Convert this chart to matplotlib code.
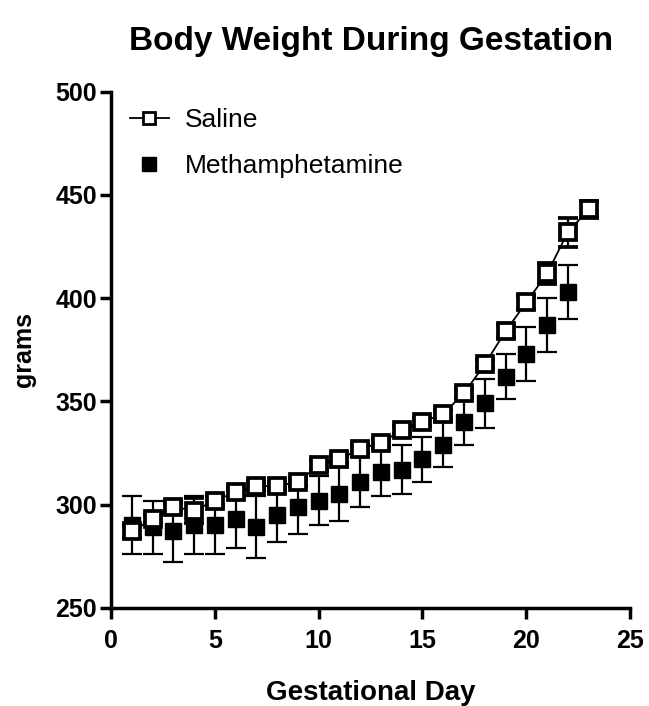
import matplotlib
matplotlib.use('Agg')
import matplotlib.pyplot as plt
from matplotlib.lines import Line2D

plt.rcParams['font.family'] = ['Liberation Sans', 'DejaVu Sans']

days_sal = list(range(1, 24))
saline = [287, 293, 299, 297, 302, 306, 309, 309, 311, 319, 322, 327, 330,
          336, 340, 344, 354, 368, 384, 398, 412, 432, 443]
saline_err = [3, 2, 2, 6, 2, 2, 2, 2, 2, 2, 2, 2, 2,
              2, 2, 2, 2, 2, 3, 3, 5, 7, 4]

days_meth = list(range(1, 23))
meth = [290, 289, 287, 290, 290, 293, 289, 295, 299, 302, 305, 311, 316,
        317, 322, 329, 340, 349, 362, 373, 387, 403]
meth_err = [14, 13, 15, 14, 14, 14, 15, 13, 13, 12, 13, 12, 12,
            12, 11, 11, 11, 12, 11, 13, 13, 13]

fig = plt.figure(figsize=(6.49, 7.06), dpi=100)
ax = fig.add_axes([0.171, 0.139, 0.80, 0.731])

ax.errorbar(days_meth, meth, yerr=meth_err, fmt='s', color='black', ms=11,
            mfc='black', mec='black', ecolor='black', elinewidth=1.6,
            capsize=7, capthick=1.6, zorder=2)
ax.errorbar(days_sal, saline, yerr=saline_err, fmt='-s', color='black', ms=11,
            mfc='white', mec='black', mew=2.7, lw=1.3, ecolor='black',
            elinewidth=1.6, capsize=7, capthick=1.6, zorder=3)

ax.set_xlim(0, 25)
ax.set_ylim(250, 500)
ax.set_xticks([0, 5, 10, 15, 20, 25])
ax.set_yticks([250, 300, 350, 400, 450, 500])
for s in ['top', 'right']:
    ax.spines[s].set_visible(False)
for s in ['left', 'bottom']:
    ax.spines[s].set_linewidth(2.5)
ax.tick_params(width=2.5, length=8, labelsize=18)
ax.tick_params(axis='x', pad=7)
ax.tick_params(axis='y', pad=2)
for lab in ax.get_xticklabels() + ax.get_yticklabels():
    lab.set_fontweight('bold')

ax.set_xlabel('Gestational Day', fontsize=20, fontweight='bold', labelpad=20)
ax.set_ylabel('grams', fontsize=18, fontweight='bold', labelpad=14)
ax.set_title('Body Weight During Gestation', fontsize=24, fontweight='bold', pad=30)

handles = [Line2D([], [], color='black', lw=1.3, marker='s', ms=9,
                  mfc='white', mec='black', mew=2),
           Line2D([], [], ls='none', marker='s', ms=10, color='black')]
ax.legend(handles, ['Saline', 'Methamphetamine'], loc='upper left',
          frameon=False, fontsize=19, bbox_to_anchor=(-0.01, 1.015),
          handlelength=1.5, labelspacing=0.85, handletextpad=0.6)

fig.savefig('out.png', dpi=100)
